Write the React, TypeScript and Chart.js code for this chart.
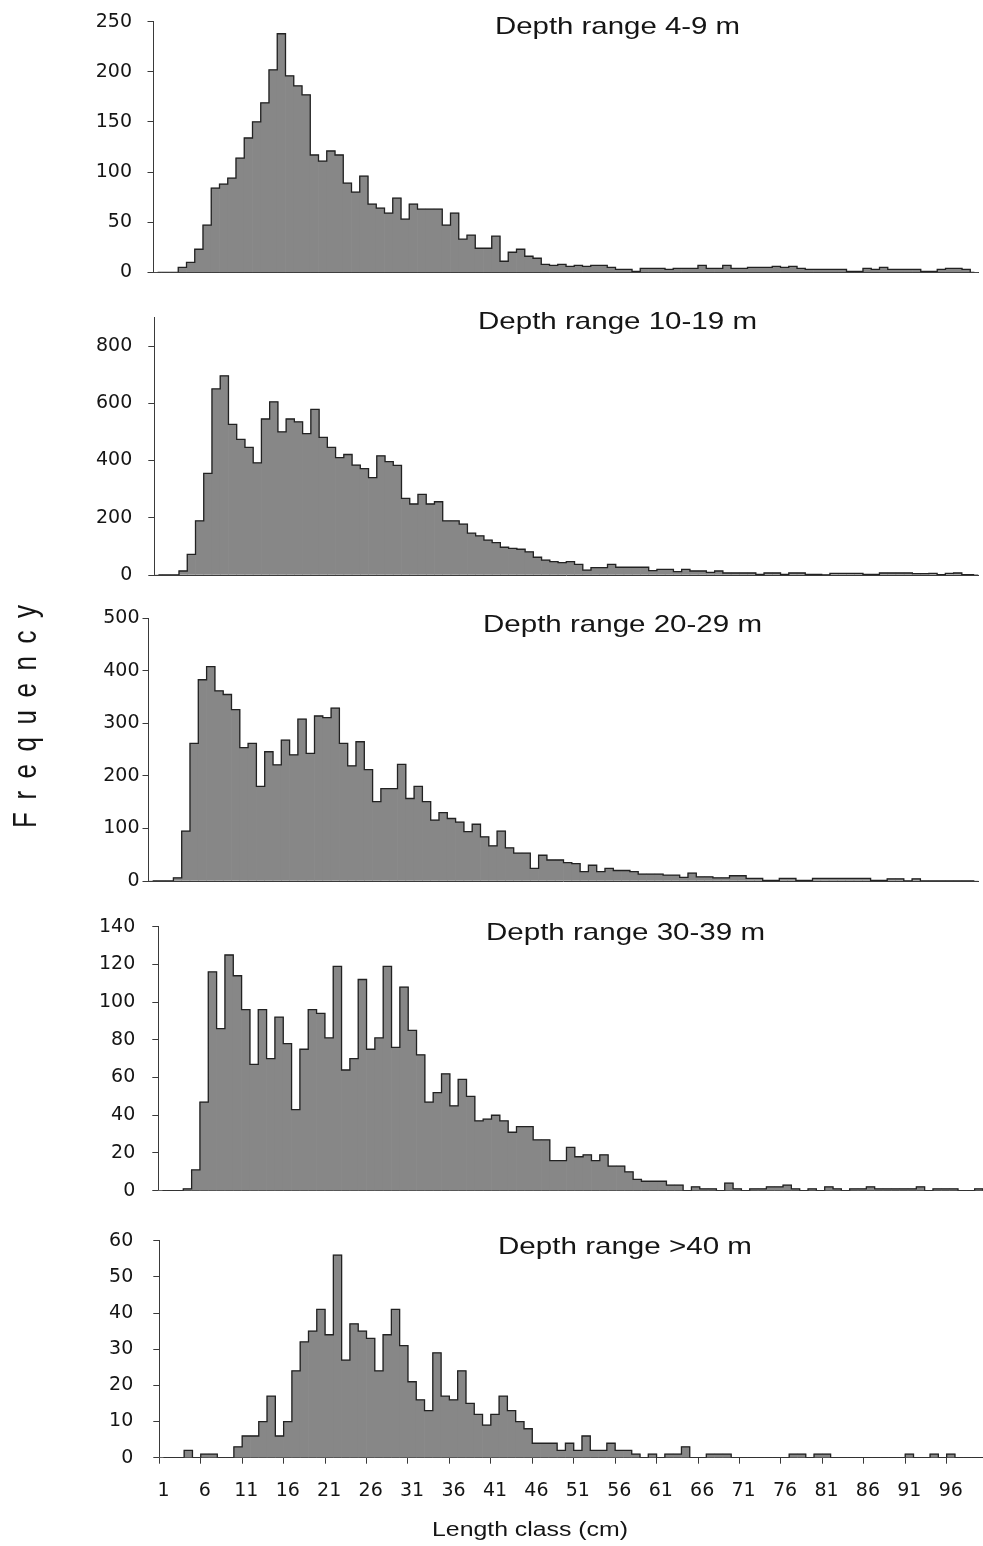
import React, { useEffect, useRef } from 'react';
import { Chart, registerables } from 'chart.js';

Chart.register(...registerables);

// ---------- data ----------
const LENGTH_CLASSES: string[] = Array.from({ length: 100 }, (_, i) => String(i + 1));
const X_TICK_LABELS = ['1', '6', '11', '16', '21', '26', '31', '36', '41', '46', '51', '56', '61', '66', '71', '76', '81', '86', '91', '96'];

const FREQ_4_9 = [
  0, 0, 0, 5, 10, 23, 47, 84, 88, 94,
  114, 134, 150, 169, 202, 238, 196, 186, 177, 117,
  111, 121, 117, 89, 80, 96, 68, 64, 59, 74,
  53, 68, 63, 63, 63, 47, 59, 33, 37, 24,
  24, 36, 11, 20, 23, 16, 14, 8, 7, 8,
  6, 7, 6, 7, 7, 5, 3, 3, 1, 4,
  4, 4, 3, 4, 4, 4, 7, 4, 4, 7,
  4, 4, 5, 5, 5, 6, 5, 6, 4, 3,
  3, 3, 3, 3, 1, 1, 4, 3, 5, 3,
  3, 3, 3, 1, 1, 3, 4, 4, 3, 0,
];
const FREQ_10_19 = [
  0, 0, 0, 14, 72, 189, 355, 650, 696, 526,
  474, 446, 392, 545, 605, 500, 545, 535, 494, 579,
  481, 446, 410, 421, 384, 372, 340, 416, 396, 383,
  268, 248, 282, 248, 256, 189, 189, 178, 146, 137,
  122, 113, 97, 93, 90, 81, 62, 52, 47, 43,
  47, 37, 17, 26, 26, 37, 27, 27, 27, 27,
  15, 20, 20, 12, 20, 14, 14, 9, 14, 7,
  7, 7, 7, 2, 7, 7, 2, 7, 7, 2,
  2, 0, 6, 6, 6, 6, 2, 2, 7, 7,
  7, 7, 5, 5, 6, 1, 6, 7, 1, 1,
];
const FREQ_20_29 = [
  0, 0, 0, 6, 95, 262, 383, 408, 362, 355,
  326, 254, 262, 180, 246, 221, 268, 240, 308, 243,
  314, 311, 329, 262, 219, 265, 212, 151, 176, 176,
  222, 157, 180, 151, 116, 130, 119, 112, 94, 108,
  84, 67, 95, 63, 53, 53, 24, 49, 40, 40,
  35, 33, 18, 30, 18, 24, 20, 20, 18, 13,
  13, 13, 11, 11, 7, 15, 8, 8, 6, 6,
  10, 10, 5, 5, 1, 1, 5, 5, 1, 1,
  5, 5, 5, 5, 5, 5, 5, 1, 1, 4,
  4, 0, 4, 0, 0, 0, 0, 0, 0, 0,
];
const FREQ_30_39 = [
  0, 0, 0, 1, 11, 47, 116, 86, 125, 114,
  96, 67, 96, 70, 92, 78, 43, 75, 96, 94,
  81, 119, 64, 70, 112, 75, 81, 119, 76, 108,
  85, 72, 47, 52, 62, 45, 59, 50, 37, 38,
  40, 37, 31, 34, 34, 27, 27, 16, 16, 23,
  18, 19, 16, 19, 13, 13, 10, 6, 5, 5,
  5, 3, 3, 0, 2, 1, 1, 0, 4, 1,
  0, 1, 1, 2, 2, 3, 1, 0, 1, 0,
  2, 1, 0, 1, 1, 2, 1, 1, 1, 1,
  1, 2, 0, 1, 1, 1, 0, 0, 1, 0,
];
const FREQ_40_PLUS = [
  0, 0, 0, 2, 0, 1, 1, 0, 0, 3,
  6, 6, 10, 17, 6, 10, 24, 32, 35, 41,
  34, 56, 27, 37, 35, 33, 24, 34, 41, 31,
  21, 16, 13, 29, 17, 16, 24, 15, 12, 9,
  12, 17, 13, 10, 8, 4, 4, 4, 2, 4,
  2, 6, 2, 2, 4, 2, 2, 1, 0, 1,
  0, 1, 1, 3, 0, 0, 1, 1, 1, 0,
  0, 0, 0, 0, 0, 0, 1, 1, 0, 1,
  1, 0, 0, 0, 0, 0, 0, 0, 0, 0,
  1, 0, 0, 1, 0, 1, 0, 0, 0, 0,
];

const Y_TICKS_4_9 = [0, 50, 100, 150, 200, 250];
const Y_TICKS_10_19 = [0, 200, 400, 600, 800];
const Y_TICKS_20_29 = [0, 100, 200, 300, 400, 500];
const Y_TICKS_30_39 = [0, 20, 40, 60, 80, 100, 120, 140];
const Y_TICKS_40_PLUS = [0, 10, 20, 30, 40, 50, 60];

const TITLES = ['Depth range 4-9 m', 'Depth range 10-19 m', 'Depth range 20-29 m', 'Depth range 30-39 m', 'Depth range >40 m'];
const X_TITLE = 'Length class (cm)';
const Y_TITLE = 'Frequency';

// ---------- layout / style ----------
const CANVAS_W = 1000;
const BAR_FILL = '#878787';
const OUTLINE = '#222222';
const AXIS = '#3a3a3a';
const TEXT = '#151515';
const TICK_FONT = { family: '"DejaVu Sans", "Liberation Sans", sans-serif', size: 19 };

type TextItem = {
  text: string;
  size: number;
  left?: number;
  right?: number;
  baseline?: number;
  rotated?: boolean;
  x?: number;
  y?: number;
  length?: number;
  cross?: number;
};

type PanelCfg = {
  values: number[];
  yTicks: number[];
  yMax: number;
  top: number;
  height: number;
  plotTop: number;
  plotBottom: number;
  left: number;
  classW: number;
  labelPad: number;
  showX: boolean;
  texts: TextItem[];
};

const PANELS: PanelCfg[] = [
  {
    values: FREQ_4_9, yTicks: Y_TICKS_4_9, yMax: 250,
    top: 0, height: 280, plotTop: 21.7, plotBottom: 272.3, left: 153.5, classW: 8.25, labelPad: 15.5, showX: false,
    texts: [{ text: TITLES[0], size: 24, left: 495, right: 740, baseline: 33.5 }],
  },
  {
    values: FREQ_10_19, yTicks: Y_TICKS_10_19, yMax: 900,
    top: 290, height: 295, plotTop: 317.4, plotBottom: 575, left: 154.3, classW: 8.24, labelPad: 16, showX: false,
    texts: [{ text: TITLES[1], size: 24, left: 478, right: 757, baseline: 328.5 - 290 }],
  },
  {
    values: FREQ_20_29, yTicks: Y_TICKS_20_29, yMax: 500,
    top: 595, height: 300, plotTop: 618.3, plotBottom: 881, left: 148.5, classW: 8.3, labelPad: 3, showX: false,
    texts: [
      { text: TITLES[2], size: 24, left: 483, right: 762, baseline: 632 - 595 },
      { text: Y_TITLE, size: 26, rotated: true, x: 36, y: 716.5 - 595, length: 223, cross: 1.25 },
    ],
  },
  {
    values: FREQ_30_39, yTicks: Y_TICKS_30_39, yMax: 140,
    top: 905, height: 300, plotTop: 926.7, plotBottom: 1190.7, left: 158.3, classW: 8.33, labelPad: 17, showX: false,
    texts: [{ text: TITLES[3], size: 24, left: 486, right: 765, baseline: 939.5 - 905 }],
  },
  {
    values: FREQ_40_PLUS, yTicks: Y_TICKS_40_PLUS, yMax: 60,
    top: 1215, height: 331, plotTop: 1240.7, plotBottom: 1457.7, left: 159.3, classW: 8.288, labelPad: 20, showX: true,
    texts: [
      { text: TITLES[4], size: 24, left: 498, right: 752, baseline: 1253.5 - 1215 },
      { text: X_TITLE, size: 20, left: 432, right: 628, baseline: 1536 - 1215 },
    ],
  },
];

// ---------- text plugin (titles placed inside the panels) ----------
const panelTextPlugin = {
  id: 'panelText',
  afterDraw(chart: any, _args: any, opts: any) {
    const ctx: CanvasRenderingContext2D = chart.ctx;
    const items: TextItem[] = (opts && opts.items) || [];
    for (const it of items) {
      ctx.save();
      ctx.fillStyle = TEXT;
      ctx.font = `${it.size}px "Liberation Sans", Arial, sans-serif`;
      ctx.textBaseline = 'alphabetic';
      ctx.textAlign = 'left';
      if (it.rotated) {
        const natural = ctx.measureText(it.text).width;
        const n = it.text.length;
        const len = it.length as number;
        ctx.translate(it.x as number, it.y as number);
        ctx.rotate(-Math.PI / 2);
        if ('letterSpacing' in ctx) {
          const sp = Math.max(0, (len - natural) / (n - 1));
          (ctx as any).letterSpacing = `${sp}px`;
          ctx.scale(1, it.cross || 1);
        } else {
          ctx.scale(len / natural, it.cross || 1);
        }
        ctx.fillText(it.text, -len / 2, 0);
      } else {
        const natural = ctx.measureText(it.text).width;
        const target = (it.right as number) - (it.left as number);
        ctx.translate(it.left as number, it.baseline as number);
        ctx.scale(target / natural, 1);
        ctx.fillText(it.text, 0, 0);
      }
      ctx.restore();
    }
  },
};

function makeChart(canvas: HTMLCanvasElement, p: PanelCfg) {
  const plotRight = p.left + p.classW * LENGTH_CLASSES.length;
  const xAxisH = p.height - (p.plotBottom - p.top);
  return new Chart(canvas, {
    type: 'bar',
    data: {
      labels: LENGTH_CLASSES,
      datasets: [
        {
          type: 'line',
          data: p.values,
          stepped: 'middle',
          borderColor: OUTLINE,
          borderWidth: 1.3,
          pointRadius: 0,
          fill: false,
          order: 0,
        } as any,
        {
          type: 'bar',
          data: p.values,
          backgroundColor: BAR_FILL,
          borderWidth: 0,
          barPercentage: 1,
          categoryPercentage: 1,
          order: 1,
        } as any,
      ],
    },
    options: {
      responsive: false,
      animation: false,
      devicePixelRatio: 1,
      events: [],
      layout: { padding: { left: 0, right: CANVAS_W - plotRight, top: p.plotTop - p.top, bottom: 0 } },
      plugins: {
        legend: { display: false },
        tooltip: { enabled: false },
        title: { display: false },
        panelText: { items: p.texts },
      } as any,
      scales: {
        x: {
          type: 'category',
          offset: true,
          grid: {
            display: p.showX,
            drawOnChartArea: false,
            drawTicks: true,
            tickLength: 6,
            offset: true,
            color: AXIS,
            tickColor: (c: any) => (typeof c.index === 'number' && X_TICK_LABELS.includes(LENGTH_CLASSES[c.index]) ? AXIS : 'rgba(0,0,0,0)'),
          },
          border: { display: true, color: AXIS, width: 1 },
          ticks: {
            display: p.showX,
            autoSkip: false,
            maxRotation: 0,
            minRotation: 0,
            padding: 16,
            color: TEXT,
            font: TICK_FONT,
            callback: (_v: any, i: number) => (X_TICK_LABELS.includes(LENGTH_CLASSES[i]) ? LENGTH_CLASSES[i] : ''),
          },
          afterFit: (s: any) => {
            s.height = xAxisH;
            s.paddingLeft = 0;
            s.paddingRight = 0;
          },
        } as any,
        y: {
          min: 0,
          max: p.yMax,
          afterBuildTicks: (s: any) => {
            s.ticks = p.yTicks.map((v) => ({ value: v }));
          },
          afterFit: (s: any) => {
            s.width = p.left;
            s.paddingTop = 0;
            s.paddingBottom = 0;
          },
          grid: { display: true, drawOnChartArea: false, drawTicks: true, tickLength: 6, color: AXIS, lineWidth: 1 },
          border: { display: true, color: AXIS, width: 1 },
          ticks: { padding: p.labelPad, color: TEXT, font: TICK_FONT },
        } as any,
      },
    },
    plugins: [panelTextPlugin as any],
  });
}

function Panel({ cfg }: { cfg: PanelCfg }) {
  const ref = useRef<HTMLCanvasElement | null>(null);
  useEffect(() => {
    if (!ref.current) return;
    const chart = makeChart(ref.current, cfg);
    return () => chart.destroy();
  }, [cfg]);
  return (
    <canvas
      ref={ref}
      width={CANVAS_W}
      height={cfg.height}
      style={{ position: 'absolute', left: 0, top: cfg.top, width: CANVAS_W, height: cfg.height }}
    />
  );
}

export default function App() {
  return (
    <div style={{ position: 'absolute', left: 0, top: 0, width: 983, height: 1546, overflow: 'hidden', background: '#ffffff' }}>
      {PANELS.map((p, i) => (
        <Panel key={i} cfg={p} />
      ))}
    </div>
  );
}
